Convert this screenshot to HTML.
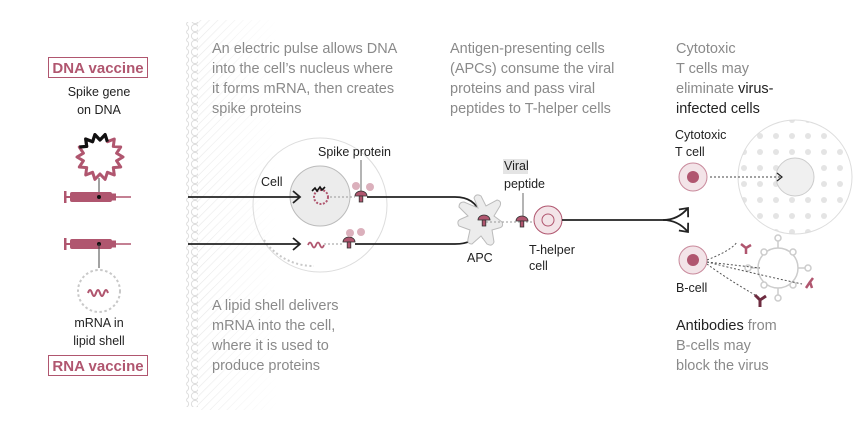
<!DOCTYPE html>
<html><head><meta charset="utf-8"><style>
html,body{margin:0;padding:0;background:#fff;}
svg{display:block;font-family:"Liberation Sans",sans-serif;}
.g{fill:#8a8a8a;font-size:14.5px;}
.k{fill:#222;}
.s{font-size:12.5px;fill:#222;}
</style></head><body>
<svg width="867" height="443" viewBox="0 0 867 443" xmlns="http://www.w3.org/2000/svg">
<defs>
<pattern id="h" width="6" height="6" patternUnits="userSpaceOnUse" patternTransform="rotate(45)">
<line x1="0" y1="0" x2="0" y2="6" stroke="#e6e6e6" stroke-width="1.2"/></pattern>
<linearGradient id="fade" x1="0" x2="1"><stop offset="0" stop-color="#fff" stop-opacity="0"/><stop offset="1" stop-color="#fff" stop-opacity="1"/></linearGradient>
<pattern id="m" width="10" height="8" patternUnits="userSpaceOnUse"><circle cx="5" cy="4" r="3.6" fill="#fff" stroke="#ddd" stroke-width="1"/></pattern>
<pattern id="v" width="16" height="16" patternUnits="userSpaceOnUse"><circle cx="8" cy="8" r="3" fill="#e4e4e4"/></pattern>
<marker id="a" markerWidth="12" markerHeight="14" refX="9" refY="7" orient="auto" markerUnits="userSpaceOnUse"><path d="M2,1 L9,7 L2,13" fill="none" stroke="#222" stroke-width="1.8"/></marker>
<marker id="a2" markerWidth="10" markerHeight="10" refX="7" refY="5" orient="auto" markerUnits="userSpaceOnUse"><path d="M2,1 L7,5 L2,9" fill="none" stroke="#222" stroke-width="1.2"/></marker>
<g id="syr"><rect x="70" y="192" width="42" height="10" rx="2" fill="#b0566f"/><rect x="110" y="193.5" width="6" height="7" fill="#b0566f"/><line x1="116" y1="197" x2="131" y2="197" stroke="#b0566f" stroke-width="1.5"/><line x1="64" y1="197" x2="70" y2="197" stroke="#b0566f" stroke-width="2"/><rect x="64" y="191" width="2.5" height="12" fill="#b0566f"/><circle cx="99" cy="197" r="2" fill="#111"/></g>
<g id="sp"><path d="M-6,-2 a6,5 0 0 1 12,0 z" fill="#b0566f" stroke="#333" stroke-width="0.8"/><rect x="-1.8" y="-2" width="3.6" height="6" fill="#b0566f" stroke="#333" stroke-width="0.8"/></g>
</defs>
<!-- membrane band -->
<rect x="196" y="20" width="80" height="390" fill="url(#h)"/>
<rect x="196" y="20" width="82" height="390" fill="url(#fade)"/>
<rect x="186" y="22" width="12" height="385" fill="url(#m)"/>

<!-- left -->
<rect x="48.5" y="57.5" width="99" height="20" fill="none" stroke="#b0566f"/>
<text x="98" y="73" text-anchor="middle" font-weight="bold" font-size="15" fill="#b0566f">DNA vaccine</text>
<text x="99" y="96" text-anchor="middle" class="s">Spike gene</text>
<text x="99" y="114" text-anchor="middle" class="s">on DNA</text>
<polygon points="123,157 116.6,160.8 120.7,167 113.3,167.6 114.3,175 107.4,172.3 105.1,179.4 100,174 94.9,179.4 92.6,172.3 85.7,175 86.7,167.6 79.3,167 83.4,160.8 77,157 83.4,153.2 79.3,147 86.7,146.4 85.7,139 92.6,141.7 94.9,134.6 100,140 105.1,134.6 107.4,141.7 114.3,139 113.3,146.4 120.7,147 116.6,153.2" fill="none" stroke="#b0566f" stroke-width="3" stroke-linejoin="round"/>
<polyline points="79.3,147 86.7,146.4 85.7,139 92.6,141.7 94.9,134.6 100,140 105.1,134.6 107.4,141.7" fill="none" stroke="#111" stroke-width="3.2" stroke-linejoin="round"/>
<line x1="99" y1="178" x2="99" y2="197" stroke="#444"/>
<use href="#syr"/>
<use href="#syr" y="47"/>
<line x1="99" y1="244" x2="99" y2="268" stroke="#444"/>
<circle cx="99" cy="291" r="21" fill="none" stroke="#c8c8c8" stroke-width="2" stroke-dasharray="2.5 2.5"/>
<path d="M88,293 q2,-6 4,0 t4,0 t4,0 t4,0 t4,0" fill="none" stroke="#b0566f" stroke-width="2"/>
<text x="99" y="327" text-anchor="middle" class="s">mRNA in</text>
<text x="99" y="345" text-anchor="middle" class="s">lipid shell</text>
<rect x="48.5" y="355.5" width="99" height="20" fill="none" stroke="#b0566f"/>
<text x="98" y="371" text-anchor="middle" font-weight="bold" font-size="15" fill="#b0566f">RNA vaccine</text>

<!-- texts -->
<g class="g">
<text x="212" y="53">An electric pulse allows DNA</text>
<text x="212" y="73">into the cell’s nucleus where</text>
<text x="212" y="93">it forms mRNA, then creates</text>
<text x="212" y="113">spike proteins</text>
<text x="450" y="53">Antigen-presenting cells</text>
<text x="450" y="73">(APCs) consume the viral</text>
<text x="450" y="93">proteins and pass viral</text>
<text x="450" y="113">peptides to T-helper cells</text>
<text x="676" y="53">Cytotoxic</text>
<text x="676" y="73">T cells may</text>
<text x="676" y="93">eliminate <tspan class="k">virus-</tspan></text>
<text x="676" y="113" class="k">infected cells</text>
<text x="212" y="310">A lipid shell delivers</text>
<text x="212" y="330">mRNA into the cell,</text>
<text x="212" y="350">where it is used to</text>
<text x="212" y="370">produce proteins</text>
<text x="676" y="330"><tspan class="k">Antibodies</tspan> from</text>
<text x="676" y="350">B-cells may</text>
<text x="676" y="370">block the virus</text>
</g>

<!-- cell -->
<circle cx="320" cy="205" r="67" fill="none" stroke="#ddd"/>
<circle cx="320" cy="196" r="30" fill="#ececec" stroke="#bbb"/>
<path d="M264,240 a60,60 0 0 0 50,26" fill="none" stroke="#c8c8c8" stroke-width="2" stroke-dasharray="2 2.5"/>
<circle cx="321" cy="197" r="7" fill="none" stroke="#b0566f" stroke-width="2" stroke-dasharray="2 1.5"/>
<path d="M312,191 l3,-3 2,3 3,-4 2,3 3,-3" fill="none" stroke="#111" stroke-width="1.6"/>
<path d="M308,245 q2,-5 4,0 t4,0 t4,0 t4,0" fill="none" stroke="#b0566f" stroke-width="1.8"/>
<line x1="330" y1="197" x2="355" y2="197" stroke="#999" stroke-dasharray="2 2"/>
<line x1="324" y1="244" x2="342" y2="244" stroke="#999" stroke-dasharray="2 2"/>
<text x="261" y="186" class="s">Cell</text>
<text x="318" y="156" class="s">Spike protein</text>
<line x1="361" y1="160" x2="361" y2="192" stroke="#444" stroke-width="0.8"/>
<use href="#sp" x="361" y="198"/>
<use href="#sp" x="349" y="244"/>
<g fill="#dbb0bc"><circle cx="356" cy="186" r="4"/><circle cx="370" cy="187" r="4"/><circle cx="350" cy="233" r="4"/><circle cx="361" cy="232" r="4"/></g>
<!-- arrows -->
<line x1="188" y1="197" x2="300" y2="197" stroke="#222" stroke-width="1.8" marker-end="url(#a)"/>
<line x1="188" y1="244" x2="300" y2="244" stroke="#222" stroke-width="1.8" marker-end="url(#a)"/>
<path d="M367,197 H455 q20,0 25,17" fill="none" stroke="#222" stroke-width="1.8" marker-end="url(#a)"/>
<path d="M355,244 H455 q20,0 25,-14" fill="none" stroke="#222" stroke-width="1.8" marker-end="url(#a)"/>
<!-- APC -->
<path d="M478,208 L474,198 q2,-5 7,-2 L486,206 L497,200 q5,1 3,6 L494,216 L502,222 q2,5 -3,6 L492,230 L494,242 q-2,5 -7,2 L481,236 L472,244 q-5,0 -4,-5 L470,230 L459,226 q-3,-5 2,-7 L468,216 L459,207 q0,-5 5,-5 Z" fill="#ececec" stroke="#bbb"/>
<text x="467" y="262" class="s">APC</text>
<line x1="486" y1="222" x2="560" y2="222" stroke="#999" stroke-dasharray="2 2"/>
<use href="#sp" x="484" y="222"/>
<rect x="503" y="159" width="25" height="15" fill="#e4e4e4"/>
<text x="504" y="170" class="s">Viral</text>
<text x="504" y="188" class="s">peptide</text>
<line x1="523" y1="193" x2="523" y2="217" stroke="#444" stroke-width="0.8"/>
<use href="#sp" x="522" y="223"/>
<circle cx="548" cy="220" r="14" fill="#f3e4e8" stroke="#b0566f" stroke-width="1"/>
<circle cx="548" cy="220" r="6" fill="none" stroke="#b0566f"/>
<text x="529" y="254" class="s">T-helper</text>
<text x="529" y="270" class="s">cell</text>
<path d="M562,220 H663 q15,0 25,-12" fill="none" stroke="#222" stroke-width="1.8" marker-end="url(#a)"/>
<path d="M663,220 q15,0 25,12" fill="none" stroke="#222" stroke-width="1.8" marker-end="url(#a)"/>
<!-- cytotoxic -->
<text x="675" y="139" class="s">Cytotoxic</text>
<text x="675" y="156" class="s">T cell</text>
<circle cx="693" cy="177" r="14" fill="#f3e4e8" stroke="#c98a9c"/>
<circle cx="693" cy="177" r="6" fill="#b0566f"/>
<circle cx="795" cy="177" r="57" fill="url(#v)" stroke="#ddd"/>
<circle cx="795" cy="177" r="19" fill="#f0f0f0" stroke="#ccc"/>
<line x1="710" y1="177" x2="782" y2="177" stroke="#444" stroke-dasharray="2 2" marker-end="url(#a2)"/>
<!-- B cell -->
<circle cx="693" cy="260" r="14" fill="#f3e4e8" stroke="#c98a9c"/>
<circle cx="693" cy="260" r="6" fill="#b0566f"/>
<text x="676" y="292" class="s">B-cell</text>
<circle cx="778" cy="268" r="20" fill="none" stroke="#ccc" stroke-width="1.5"/>
<g stroke="#ccc" stroke-width="1.5" fill="#fff"><line x1="778" y1="248" x2="778" y2="240"/><circle cx="778" cy="238" r="3"/><line x1="798" y1="268" x2="806" y2="268"/><circle cx="808" cy="268" r="3"/><line x1="758" y1="268" x2="750" y2="268"/><circle cx="748" cy="268" r="3"/><line x1="778" y1="288" x2="778" y2="296"/><circle cx="778" cy="298" r="3"/><circle cx="764" cy="252" r="3"/><circle cx="793" cy="252" r="3"/><circle cx="764" cy="285" r="3"/><circle cx="793" cy="285" r="3"/></g>
<g stroke="#555" stroke-dasharray="2 2" fill="none"><path d="M707,260 q25,-10 30,-18"/><path d="M707,262 L760,268"/><path d="M707,262 q40,10 95,22"/><path d="M707,264 q20,15 55,35"/></g>
<g stroke="#b0566f" stroke-width="2.5" fill="none"><path d="M741,244 l5,4 m0,0 l0,6 m0,-6 l5,-3"/><path d="M810,282 l-4,6 m4,-6 l3,-4 m-3,4 l2,6"/></g>
<g stroke="#6e2c40" stroke-width="3" fill="none"><path d="M760,300 l-5,-5 m5,5 l6,-4 m-6,4 l0,7"/></g>
</svg>
</body></html>
